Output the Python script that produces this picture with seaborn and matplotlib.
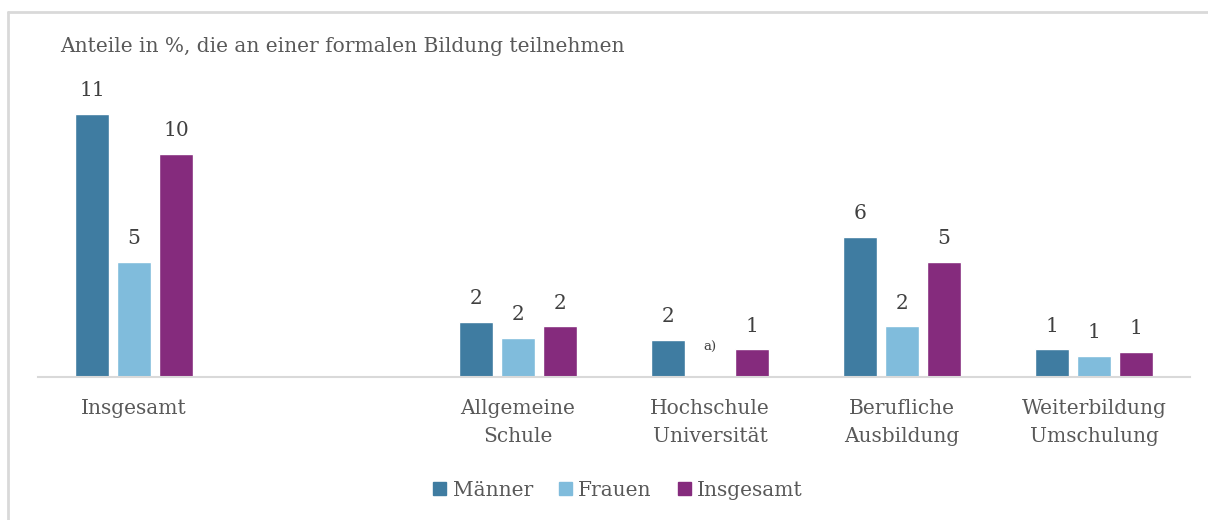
import numpy as np
import pandas as pd
import seaborn as sns
import matplotlib.pyplot as plt
from matplotlib.lines import Line2D

# values (percent)
categories = ["Insgesamt", " ", "Allgemeine\nSchule", "Hochschule\nUniversität",
              "Berufliche\nAusbildung", "Weiterbildung\nUmschulung"]
data_categories = ["Insgesamt", "Allgemeine\nSchule", "Hochschule\nUniversität",
                   "Berufliche\nAusbildung", "Weiterbildung\nUmschulung"]
maenner = [11.45, 2.4, 1.6, 6.1, 1.2]
frauen = [5.0, 1.7, np.nan, 2.2, 0.9]
insgesamt = [9.7, 2.2, 1.2, 5.0, 1.1]
groups = ["Männer", "Frauen", "Insgesamt"]
colors = ["#3F7CA1", "#80BCDC", "#852B7D"]

df = pd.DataFrame({
    "Kategorie": data_categories * 3,
    "Gruppe": [g for g in groups for _ in data_categories],
    "Wert": maenner + frauen + insgesamt,
})

sns.set_style("white")
plt.rcParams["font.family"] = ["DejaVu Serif"]
text_col = "#595959"
fs = 14.5

fig = plt.figure(figsize=(12.08, 5.2), dpi=100)
ax = fig.add_axes([38 / 1208, 143 / 520, 1152 / 1208, 317 / 520])

sns.barplot(data=df.dropna(), x="Kategorie", y="Wert", hue="Gruppe",
            order=categories, hue_order=groups, palette=colors, saturation=1,
            width=0.656, gap=0.21, errorbar=None, legend=False, ax=ax)

for cont in ax.containers:
    ax.bar_label(cont, fmt="{:.0f}", padding=10, fontsize=fs, color="#404040")

# missing value marker for Frauen / Hochschule
hx = categories.index("Hochschule\nUniversität")
ax.text(hx, 1.27, "a)", ha="center", va="center", fontsize=9.5, color="#404040")

ax.set_xlim(-0.5, len(categories) - 0.5)
ax.set_ylim(0, 13.8)
ax.set_xlabel("")
ax.set_ylabel("")
ax.set_yticks([])
ax.tick_params(axis="x", length=0, labelsize=fs, labelcolor=text_col, pad=16)
for lab in ax.get_xticklabels():
    lab.set_linespacing(1.6)
for s in ["top", "right", "left"]:
    ax.spines[s].set_visible(False)
ax.spines["bottom"].set_color("#d9d9d9")
ax.spines["bottom"].set_linewidth(1.5)

fig.text(60 / 1208, 1 - 47 / 520, "Anteile in %, die an einer formalen Bildung teilnehmen",
         fontsize=fs, color=text_col, va="center", ha="left")

handles = [plt.Rectangle((0, 0), 1, 1, color=c) for c in colors]
fig.legend(handles, groups, loc="center", bbox_to_anchor=(618 / 1208, 1 - 490 / 520),
           ncol=3, frameon=False, fontsize=fs, labelcolor=text_col,
           handlelength=0.65, handleheight=0.65, handletextpad=0.3, columnspacing=1.3)

# light frame on top and left
fig.add_artist(Line2D([8 / 1208, 1], [1 - 12 / 520, 1 - 12 / 520], color="#d9d9d9", lw=2))
fig.add_artist(Line2D([8 / 1208, 8 / 1208], [0, 1 - 12 / 520], color="#d9d9d9", lw=2))

fig.savefig("out.png", dpi=100)
